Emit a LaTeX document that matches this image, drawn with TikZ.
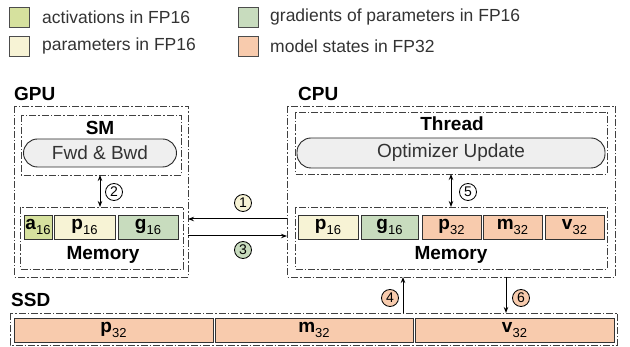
\documentclass[tikz,border=0pt]{standalone}
\usepackage{fontspec}
\setmainfont{Liberation Sans}
\usetikzlibrary{arrows.meta}
\definecolor{cact}{HTML}{D6E19E}
\definecolor{cgrad}{HTML}{C8DCBE}
\definecolor{cpar}{HTML}{F7F3D5}
\definecolor{cfp}{HTML}{F8CBAD}
\definecolor{cpill}{HTML}{EFEFEF}
\definecolor{cframe}{HTML}{404040}
\newcommand\celltxt[2]{#1\raisebox{-0.22em}{\fontsize{13}{13}\mdseries\selectfont #2}}
\begin{document}
\begin{tikzpicture}[x=1pt,y=-1pt,
  frame/.style={draw=cframe,line width=0.9pt,dash pattern=on 7pt off 2pt on 1.5pt off 2pt},
  lab/.style={font=\fontsize{19}{22}\bfseries\selectfont,inner sep=0pt},
  legtxt/.style={font=\fontsize{17.5}{21}\selectfont,text=black!80,inner sep=0pt,anchor=west},
  legsq/.style={draw=black!70,line width=0.6pt,minimum size=20pt,inner sep=0pt},
  cell/.style={draw=black!80,line width=0.9pt,inner sep=0pt,font=\fontsize{19}{22}\bfseries\selectfont},
  pill/.style={draw=black!85,line width=0.9pt,fill=cpill,rounded corners=14pt,inner sep=0pt,font=\fontsize{19}{22}\selectfont,text=black!80},
  num/.style={circle,draw=black,line width=0.8pt,minimum size=17pt,inner sep=0pt,font=\fontsize{14}{14}\selectfont},
  arr/.style={-{Stealth[length=6pt,width=4.5pt]},line width=1pt},
  darr/.style={{Stealth[length=6pt,width=4.5pt]}-{Stealth[length=6pt,width=4.5pt]},line width=1pt}
]
\useasboundingbox (0,0) rectangle (630,347);
% legend
\node[legsq,fill=cact] (l1) at (19,17) {};
\node[legtxt] (l1t) at (42,17) {activations in FP16};
\node[legsq,fill=cpar] (l2) at (19,46) {};
\node[legtxt] (l2t) at (42,46) {parameters in FP16};
\node[legsq,fill=cgrad] (l3) at (248,17) {};
\node[legtxt] (l3t) at (270,17) {gradients of parameters in FP16};
\node[legsq,fill=cfp] (l4) at (248,46) {};
\node[legtxt] (l4t) at (270,46) {model states in FP32};

% GPU
\node[lab,anchor=west] (gpul) at (14,94) {GPU};
\draw[frame] (14,106) rectangle (188,277);
\coordinate (gpuR1) at (188,219);
\coordinate (gpuR3) at (188,236);
\draw[frame] (21,115) rectangle (181,175);
\node[lab] (sml) at (100,128) {SM};
\node[pill,minimum width=153pt,minimum height=28pt] (fwd) at (100,153) {Fwd \& Bwd};
\draw[frame] (20,207) rectangle (183,269);
\coordinate (gmemT) at (100,207);
\coordinate (smB) at (100,175);
\node[cell,fill=cact,minimum width=28pt,minimum height=24pt] (ga) at (38,227) {\celltxt{a}{16}};
\node[cell,fill=cpar,minimum width=61pt,minimum height=24pt] (gp) at (84.5,227) {\celltxt{p}{16}};
\node[cell,fill=cgrad,minimum width=60pt,minimum height=24pt] (gg) at (148,227) {\celltxt{g}{16}};
\node[lab] (gmeml) at (103,255) {Memory};
\draw[darr] (smB) -- (gmemT);
\node[num] (n2) at (114,192) {2};

% CPU
\node[lab,anchor=west] (cpul) at (298,94) {CPU};
\draw[frame] (287,106) rectangle (615,277);
\coordinate (cpuL1) at (287,219);
\coordinate (cpuL3) at (287,236);
\draw[frame] (295,112) rectangle (607,174);
\node[lab] (thl) at (452,124) {Thread};
\node[pill,minimum width=308pt,minimum height=30pt] (opt) at (451,153) {Optimizer Update};
\draw[frame] (295,207) rectangle (607,269);
\coordinate (thB) at (451,174);
\coordinate (cmemT) at (451,207);
\node[cell,fill=cpar,minimum width=60pt,minimum height=24pt] (cp16) at (328,227) {\celltxt{p}{16}};
\node[cell,fill=cgrad,minimum width=57pt,minimum height=24pt] (cg16) at (389.5,227) {\celltxt{g}{16}};
\node[cell,fill=cfp,minimum width=59pt,minimum height=24pt] (cp32) at (451.5,227) {\celltxt{p}{32}};
\node[cell,fill=cfp,minimum width=59pt,minimum height=24pt] (cm32) at (512.5,227) {\celltxt{m}{32}};
\node[cell,fill=cfp,minimum width=59pt,minimum height=24pt] (cv32) at (574.5,227) {\celltxt{v}{32}};
\node[lab] (cmeml) at (451,255) {Memory};
\draw[darr] (thB) -- (cmemT);
\node[num] (n5) at (468,192) {5};

% GPU <-> CPU
\draw[arr] (cpuL1) -- (gpuR1);
\draw[arr] (gpuR3) -- (cpuL3);
\node[num,fill=cpar] (n1) at (243,203) {1};
\node[num,fill=cgrad] (n3) at (243,250) {3};

% SSD
\node[lab,anchor=west] (ssdl) at (11,300) {SSD};
\draw[frame] (10,313) rectangle (617,345);
\node[cell,fill=cfp,minimum width=199pt,minimum height=24pt] (sp) at (113.5,330) {\celltxt{p}{32}};
\node[cell,fill=cfp,minimum width=198pt,minimum height=24pt] (sm) at (314,330) {\celltxt{m}{32}};
\node[cell,fill=cfp,minimum width=199pt,minimum height=24pt] (sv) at (514.5,330) {\celltxt{v}{32}};
\coordinate (ssdT4) at (403,313);
\coordinate (cpuB4) at (403,277);
\coordinate (cpuB6) at (506,277);
\coordinate (ssdT6) at (506,313);
\draw[arr] (ssdT4) -- (cpuB4);
\draw[arr] (cpuB6) -- (ssdT6);
\node[num,fill=cfp] (n4) at (390,298) {4};
\node[num,fill=cfp] (n6) at (521,298) {6};
\end{tikzpicture}
\end{document}
